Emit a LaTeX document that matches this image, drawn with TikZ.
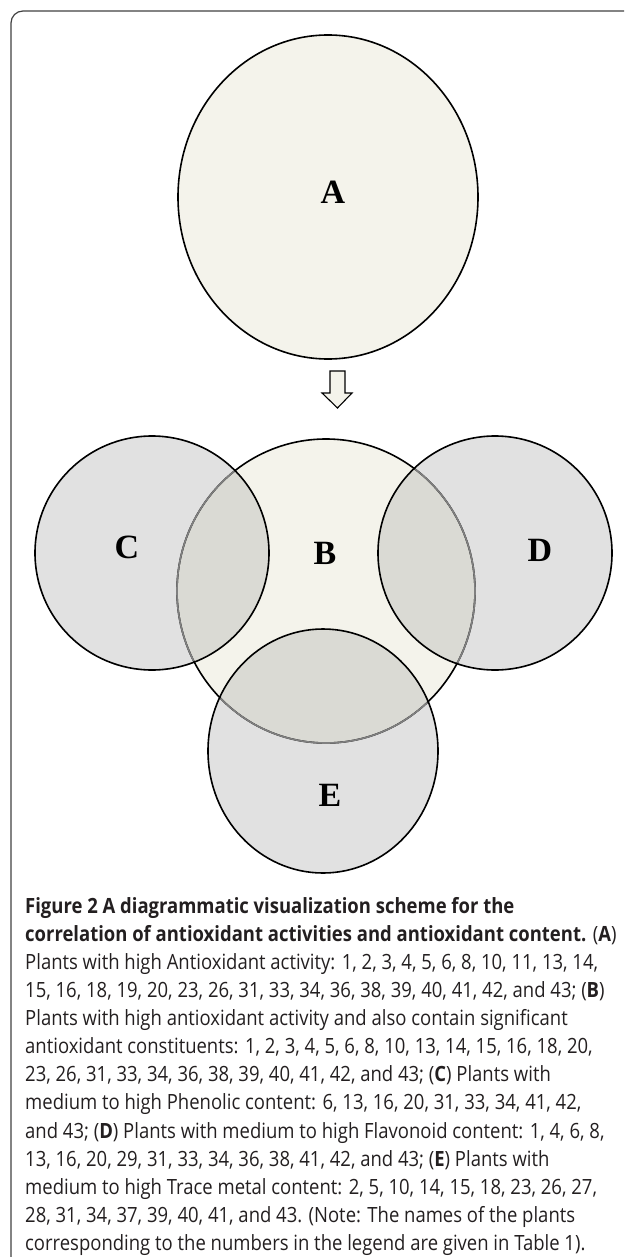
\documentclass[tikz,border=0pt]{standalone}
\usepackage{fontspec}
\setmainfont{Liberation Serif}
\newfontfamily\capfont{Open Sans}[FakeStretch=0.88]
\definecolor{setbeige}{RGB}{244,243,235}
\definecolor{setgrey}{RGB}{225,225,225}
\definecolor{setboth}{RGB}{218,218,212}
\definecolor{captext}{RGB}{35,31,32}
\tikzset{
  setline/.style={line width=1.6pt, draw=black},
  setlabel/.style={font=\fontsize{34}{34}\selectfont\bfseries, inner sep=0pt},
}

\begin{document}
\begin{tikzpicture}[x=1pt,y=1pt,yscale=-1,xscale=1]
\useasboundingbox (0,0) rectangle (624,1257);

%Frame (top and left sides only)
\draw [line width=1.2pt, draw=black!75] (11,1257) -- (11,23) arc (180:270:12) -- (624,11) ;

%Shape: Ellipse A
\draw [setline, fill=setbeige] (328,197) ellipse (150 and 162) ;
%Shape: Block arrow
\draw [line width=1.1pt, fill=setbeige] (330,371) -- (345,371) -- (345,393) -- (352,393) -- (337.5,408) -- (322,393) -- (330,393) -- cycle ;

%Fills of the lower sets
\fill [setbeige] (326,591) ellipse (149 and 152) ;
\fill [setgrey] (152,553) circle (117) ;
\fill [setgrey] (495,553) circle (117) ;
\fill [setgrey] (323,751) ellipse (115 and 122) ;
%Overlaps with B
\begin{scope}
  \clip (326,591) ellipse (149 and 152) ;
  \fill [setboth] (152,553) circle (117) ;
  \fill [setboth] (495,553) circle (117) ;
  \fill [setboth] (323,751) ellipse (115 and 122) ;
\end{scope}

%Outline of B, greyed where it runs inside C, D and E
\draw [setline] (326,591) ellipse (149 and 152) ;
\foreach \cx/\cy/\rx/\ry in {152/553/117/117, 495/553/117/117, 323/751/115/122}{
  \begin{scope}
    \clip (\cx,\cy) ellipse (\rx-1 and \ry-1) ;
    \draw [setline, draw=gray] (326,591) ellipse (149 and 152) ;
  \end{scope}
}
%Outlines of C, D, E
\draw [setline] (152,553) circle (117) ;
\draw [setline] (495,553) circle (117) ;
\draw [setline] (323,751) ellipse (115 and 122) ;

% Set labels
\node [setlabel] (labA) at (333,192) {A};
\node [setlabel] (labB) at (325,553) {B};
\node [setlabel] (labC) at (127,547) {C};
\node [setlabel] (labD) at (540,550) {D};
\node [setlabel] (labE) at (330,795) {E};

% Caption
\node [anchor=north west, inner sep=0pt, align=left, text=captext,
  font=\capfont\fontsize{21}{28.1}\selectfont] (caption) at (25,897)
{\textbf{Figure 2 A diagrammatic visualization scheme for the}\\
\textbf{correlation of antioxidant activities and antioxidant content.} (\textbf{A})\\
Plants with high Antioxidant activity: 1, 2, 3, 4, 5, 6, 8, 10, 11, 13, 14,\\
15, 16, 18, 19, 20, 23, 26, 31, 33, 34, 36, 38, 39, 40, 41, 42, and 43; (\textbf{B})\\
Plants with high antioxidant activity and also contain significant\\
antioxidant constituents: 1, 2, 3, 4, 5, 6, 8, 10, 13, 14, 15, 16, 18, 20,\\
23, 26, 31, 33, 34, 36, 38, 39, 40, 41, 42, and 43; (\textbf{C}) Plants with\\
medium to high Phenolic content: 6, 13, 16, 20, 31, 33, 34, 41, 42,\\
and 43; (\textbf{D}) Plants with medium to high Flavonoid content: 1, 4, 6, 8,\\
13, 16, 20, 29, 31, 33, 34, 36, 38, 41, 42, and 43; (\textbf{E}) Plants with\\
medium to high Trace metal content: 2, 5, 10, 14, 15, 18, 23, 26, 27,\\
28, 31, 34, 37, 39, 40, 41, and 43. (Note: The names of the plants\\
corresponding to the numbers in the legend are given in Table 1).};

\end{tikzpicture}
\end{document}
